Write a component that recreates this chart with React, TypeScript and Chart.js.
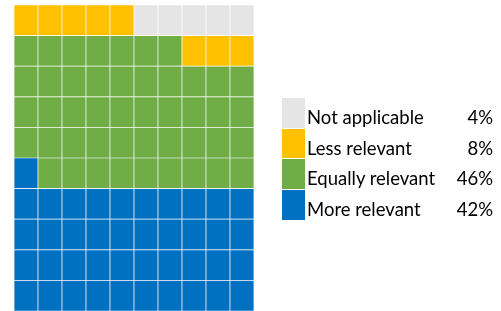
import React, { useEffect, useRef } from "react";
import { Chart, registerables } from "chart.js";

Chart.register(...registerables);

const categories = ["Not applicable", "Less relevant", "Equally relevant", "More relevant"];
const percentLabels = ["4%", "8%", "46%", "42%"];
const cellCounts = [5, 8, 46, 41];
const colors = ["#E5E5E5", "#FFC000", "#70AD47", "#0070C0"];
const columnLabels = ["1", "2", "3", "4", "5", "6", "7", "8", "9", "10"];
const rowLabels = ["1", "2", "3", "4", "5", "6", "7", "8", "9", "10"];

function buildCellColors(): string[] {
  // fill from bottom-left, row by row, starting with the last category
  const out: string[] = [];
  for (let c = categories.length - 1; c >= 0; c--) {
    for (let k = 0; k < cellCounts[c]; k++) out.push(colors[c]);
  }
  return out;
}

export default function App() {
  const ref = useRef<HTMLCanvasElement | null>(null);

  useEffect(() => {
    document.body.style.margin = "0";
    const cells = buildCellColors();
    const ncol = columnLabels.length;
    const datasets = rowLabels.map((r, ri) => ({
      label: "row " + r,
      data: columnLabels.map(() => 1),
      backgroundColor: columnLabels.map((_, ci) => cells[ri * ncol + ci]),
      borderColor: "rgba(255,255,255,0.95)",
      borderWidth: 0.7,
      borderSkipped: false as const,
      barPercentage: 1,
      categoryPercentage: 1,
    }));
    const chart = new Chart(ref.current!, {
      type: "bar",
      data: { labels: columnLabels, datasets },
      options: {
        animation: false,
        responsive: false,
        layout: { padding: { left: 14, right: 247, top: 5, bottom: 0 } },
        plugins: { legend: { display: false }, tooltip: { enabled: false } },
        scales: {
          x: { stacked: true, display: false },
          y: { stacked: true, display: false, min: 0, max: rowLabels.length },
        },
      },
    });
    return () => chart.destroy();
  }, []);

  const rowH = 30.7;
  return (
    <div style={{ position: "relative", width: 501, height: 311, overflow: "hidden", background: "#fff" }}>
      <canvas ref={ref} width={501} height={311} style={{ position: "absolute", left: 0, top: 0, width: 501, height: 311 }} />
      {categories.map((c, i) => (
        <div
          key={c}
          style={{
            position: "absolute",
            left: 282,
            top: 98 + i * rowH,
            width: 211,
            height: rowH,
            fontFamily: "Lato, sans-serif",
            fontSize: 18.5,
            color: "#000",
          }}
        >
          <div style={{ position: "absolute", left: 0, top: 0, width: 23, height: rowH - 1, background: colors[i] }} />
          <div style={{ position: "absolute", left: 25, top: 4, lineHeight: rowH + "px", whiteSpace: "nowrap" }}>{c}</div>
          <div style={{ position: "absolute", right: 0, top: 4, lineHeight: rowH + "px", whiteSpace: "nowrap" }}>{percentLabels[i]}</div>
        </div>
      ))}
    </div>
  );
}
